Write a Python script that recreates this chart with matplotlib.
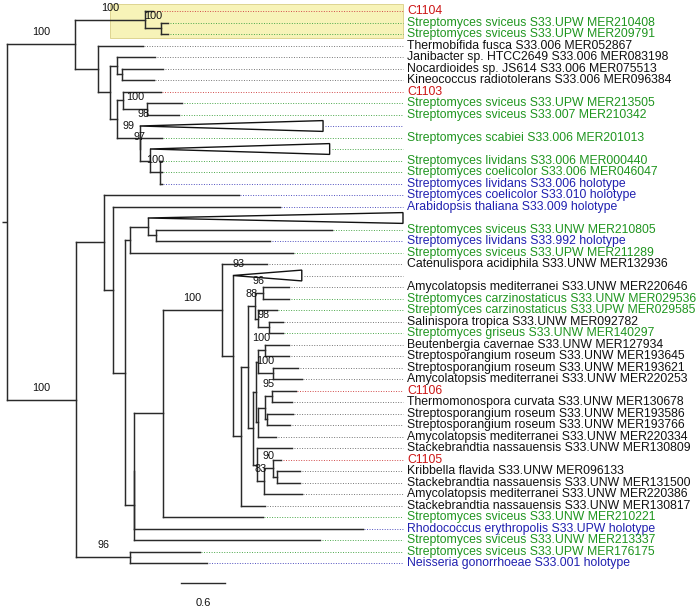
import matplotlib
matplotlib.use('Agg')
import matplotlib.pyplot as plt
from matplotlib.patches import Polygon, Rectangle

plt.rcParams['font.family'] = ['Liberation Sans', 'DejaVu Sans']

# ---------------- data ----------------
leaf_names = [
    "C1104",
    "Streptomyces sviceus S33.UPW MER210408",
    "Streptomyces sviceus S33.UPW MER209791",
    "Thermobifida fusca S33.006 MER052867",
    "Janibacter sp. HTCC2649 S33.006 MER083198",
    "Nocardioides sp. JS614 S33.006 MER075513",
    "Kineococcus radiotolerans S33.006 MER096384",
    "C1103",
    "Streptomyces sviceus S33.UPW MER213505",
    "Streptomyces sviceus S33.007 MER210342",
    "",
    "Streptomyces scabiei S33.006 MER201013",
    "",
    "Streptomyces lividans S33.006 MER000440",
    "Streptomyces coelicolor S33.006 MER046047",
    "Streptomyces lividans S33.006 holotype",
    "Streptomyces coelicolor S33.010 holotype",
    "Arabidopsis thaliana S33.009 holotype",
    "",
    "Streptomyces sviceus S33.UNW MER210805",
    "Streptomyces lividans S33.992 holotype",
    "Streptomyces sviceus S33.UPW MER211289",
    "Catenulispora acidiphila S33.UNW MER132936",
    "",
    "Amycolatopsis mediterranei S33.UNW MER220646",
    "Streptomyces carzinostaticus S33.UNW MER029536",
    "Streptomyces carzinostaticus S33.UPW MER029585",
    "Salinispora tropica S33.UNW MER092782",
    "Streptomyces griseus S33.UNW MER140297",
    "Beutenbergia cavernae S33.UNW MER127934",
    "Streptosporangium roseum S33.UNW MER193645",
    "Streptosporangium roseum S33.UNW MER193621",
    "Amycolatopsis mediterranei S33.UNW MER220253",
    "C1106",
    "Thermomonospora curvata S33.UNW MER130678",
    "Streptosporangium roseum S33.UNW MER193586",
    "Streptosporangium roseum S33.UNW MER193766",
    "Amycolatopsis mediterranei S33.UNW MER220334",
    "Stackebrandtia nassauensis S33.UNW MER130809",
    "C1105",
    "Kribbella flavida S33.UNW MER096133",
    "Stackebrandtia nassauensis S33.UNW MER131500",
    "Amycolatopsis mediterranei S33.UNW MER220386",
    "Stackebrandtia nassauensis S33.UNW MER130817",
    "Streptomyces sviceus S33.UNW MER210221",
    "Rhodococcus erythropolis S33.UPW holotype",
    "Streptomyces sviceus S33.UNW MER213337",
    "Streptomyces sviceus S33.UPW MER176175",
    "Neisseria gonorrhoeae S33.001 holotype",
]

# q = query (red), s = Streptomyces MEROPS (green), h = holotype (blue), o = other (black)
leaf_groups = [
    'q', 's', 's', 'o', 'o', 'o', 'o', 'q', 's', 's',
    'h', 's', 's', 's', 's', 'h', 'h', 'h', 'o', 's',
    'h', 's', 'o', 'o', 'o', 's', 's', 'o', 's', 'o',
    'o', 'o', 'o', 'q', 'o', 'o', 'o', 'o', 'o', 'q',
    'o', 'o', 'o', 'o', 's', 'h', 's', 's', 'h',
]

# tip depth (substitutions/site); for collapsed clades: depth of the triangle's far edge
leaf_depths = [
    1.99, 2.20, 2.20, 1.85, 2.02, 2.13, 2.00, 2.10, 2.39, 2.35,
    4.31, 2.11, 4.40, 2.11, 2.11, 2.11, 3.16, 3.72, 5.40, 4.43,
    3.59, 3.90, 3.55, 4.02, 3.85, 3.85, 3.68, 3.76, 3.76, 3.85,
    3.85, 3.97, 4.02, 3.94, 3.89, 3.90, 3.86, 3.67, 3.89, 3.74,
    4.00, 4.00, 4.02, 3.52, 3.49, 4.85, 4.27, 2.63, 2.73,
]

# collapsed clades: leaf index -> depth of clade root (triangle apex)
collapsed_apex = {10: 1.81, 12: 1.95, 18: 1.92, 23: 3.08}
collapsed_support = {10: 98, 23: 93}


def N(depth, support, *children):
    return {'d': depth, 's': support, 'c': list(children)}


tree = N(0.0, None,
    N(0.93, 100,
        N(1.88, 100, 0, N(2.10, 100, 1, 2)),
        N(1.24, None, 3,
            N(1.40, None,
                N(1.50, None, 4, N(1.57, None, 5, 6)),
                N(1.50, None,
                    N(1.58, None, 7, N(1.91, 100, 8, 9)),
                    N(1.81, 99, 10,
                        N(1.81, 97, 11,
                            N(1.95, None, 12, N(2.09, 100, 13, 14, 15)))))))),
    N(0.94, 100,
        N(1.32, None, 16,
            N(1.45, None, 17,
                N(1.61, None,
                    N(1.68, None, N(1.92, None, 18, N(2.03, None, 19, 20)), 21),
                    N(1.73, None,
                        N(1.73, None,
                            N(2.13, None,
                                N(2.93, 100, 22,
                                    N(3.08, None, 23,
                                        N(3.19, None,
                                            N(3.29, None,
                                                N(3.38, 88,
                                                    N(3.49, 96, 24, 25),
                                                    N(3.42, None, 26, N(3.57, 98, 27, 28))),
                                                N(3.35, None,
                                                    N(3.40, None,
                                                        N(3.42, None, N(3.52, 100, 29, 30), N(3.63, 100, 31, 32)),
                                                        N(3.42, None,
                                                            N(3.52, None, N(3.61, 95, 33, 34), N(3.55, None, 35, 36)),
                                                            37)),
                                                    N(3.41, None, 38,
                                                        N(3.50, 83, N(3.63, 90, 39, N(3.68, None, 40, 41)), 42)))),
                                            43))),
                                44),
                            45),
                        46)))),
        N(1.68, 96, 47, 48)))

highlight_leaves = [0, 1, 2]
scale_length = 0.6

# ---------------- layout / style ----------------
PX_PER_UNIT = 73.33
X0_PX = 7
ROW_PX = 11.5
ROW0_PX = 11
ALIGN = 5.40
W, H = 697, 611
colors = {'q': '#cc1515', 's': '#1f951f', 'h': '#2020b0', 'o': '#111111'}
dot_colors = {'q': '#d24a4a', 's': '#4aa84a', 'h': '#5050c0', 'o': '#777777'}
LINE = '#2a2a2a'
label_dx_px = {10: 4, 23: 6}

fig = plt.figure(figsize=(W / 100, H / 100), dpi=100)
ax = fig.add_axes([0, 0, 1, 1])
ax.set_xlim(-X0_PX / PX_PER_UNIT, (W - X0_PX) / PX_PER_UNIT)
ax.set_ylim((H - ROW0_PX) / ROW_PX, -ROW0_PX / ROW_PX)
ax.axis('off')


def node_y(node):
    if isinstance(node, int):
        return float(node)
    ys = [node_y(c) for c in node['c']]
    node['y'] = (ys[0] + ys[-1]) / 2
    return node['y']


root_y = node_y(tree)


def cdepth(c):
    if isinstance(c, int):
        return collapsed_apex.get(c, leaf_depths[c])
    return c['d']


def cy(c):
    return float(c) if isinstance(c, int) else c['y']


def csup(c):
    if isinstance(c, int):
        return collapsed_support.get(c)
    return c['s']


def cid(c):
    return c if isinstance(c, int) else None


lw = 1.05


def draw(node):
    ys = [cy(c) for c in node['c']]
    ax.plot([node['d'], node['d']], [min(ys), max(ys)], color=LINE, lw=lw,
            solid_capstyle='projecting', zorder=3)
    for c in node['c']:
        d = cdepth(c)
        y = cy(c)
        ax.plot([node['d'], d], [y, y], color=LINE, lw=lw,
                solid_capstyle='projecting', zorder=3)
        s = csup(c)
        if s is not None:
            dx = label_dx_px.get(cid(c), 0) / PX_PER_UNIT
            ax.annotate(str(s), xy=((node['d'] + d) / 2 + dx, y),
                        xytext=(0, 8.6), textcoords='offset points',
                        ha='center', va='center', fontsize=7.8,
                        color='#111111', zorder=5)
        if isinstance(c, dict):
            draw(c)


# root stub
ax.plot([-5 / PX_PER_UNIT, 0], [root_y, root_y], color=LINE, lw=lw,
        solid_capstyle='butt', zorder=3)
draw(tree)

# highlighted clade
a_d, a1_d = 0.93, 1.88
x_start = (a_d + a1_d) / 2
ax.add_patch(Rectangle((x_start, min(highlight_leaves) - 0.61),
                       ALIGN - x_start, (max(highlight_leaves) - min(highlight_leaves)) + 0.96,
                       facecolor='#f7f3b8', edgecolor='#d9cf86', lw=0.6, zorder=0))

# leaves
for i, name in enumerate(leaf_names):
    g = leaf_groups[i]
    if i in collapsed_apex:
        apex = collapsed_apex[i]
        far = leaf_depths[i]
        ax.add_patch(Polygon([(apex, i), (far, i - 0.47), (far, i + 0.47)],
                             closed=True, facecolor='white', edgecolor='#111111',
                             lw=1.0, zorder=4))
        if far < ALIGN - 0.02:
            ax.plot([far + 0.03, ALIGN], [i, i], color=dot_colors[g], lw=0.7,
                    linestyle=(0, (1, 1.6)), zorder=2)
    else:
        tip = leaf_depths[i]
        ax.plot([tip + 0.02, ALIGN], [i, i], color=dot_colors[g], lw=0.7,
                linestyle=(0, (1, 1.6)), zorder=2)
    if name:
        ax.text(ALIGN + 4 / PX_PER_UNIT, i, name, ha='left', va='center',
                fontsize=8.8, color=colors[g], zorder=5)

# scale bar
sb_x0 = (181 - X0_PX) / PX_PER_UNIT
sb_y = (583 - ROW0_PX) / ROW_PX
ax.plot([sb_x0, sb_x0 + scale_length], [sb_y, sb_y], color=LINE, lw=1.0)
ax.text(sb_x0 + scale_length / 2, (603 - ROW0_PX) / ROW_PX, str(scale_length),
        ha='center', va='center', fontsize=8, color='#111111')

fig.savefig('out.png', dpi=100, facecolor='white')
